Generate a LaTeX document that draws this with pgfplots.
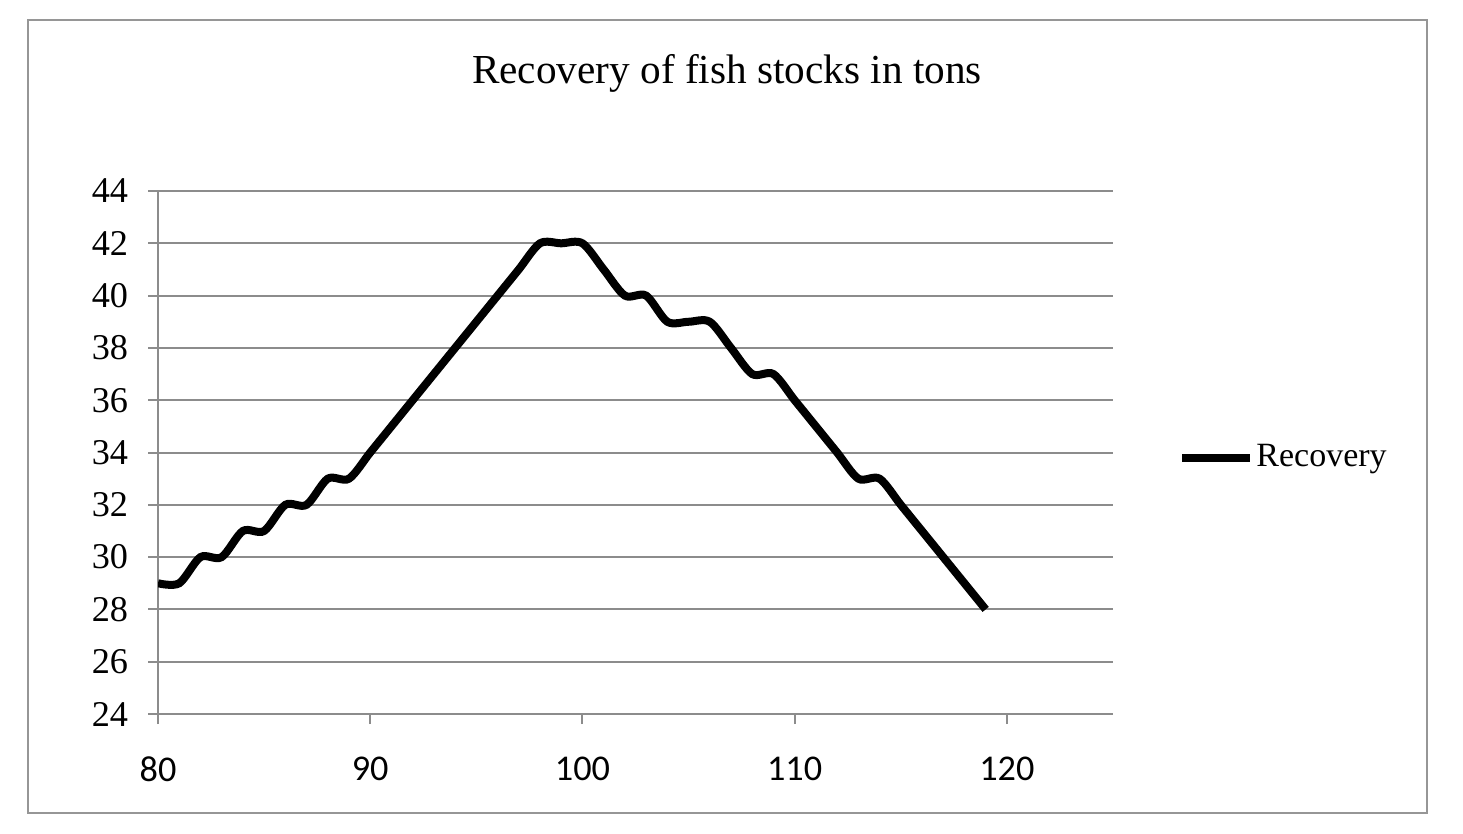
\documentclass[border=0pt]{standalone}
\usepackage{pgfplots}
\pgfplotsset{compat=1.18}
\usepackage{fontspec}
\setmainfont{Liberation Serif}
\newfontfamily\xfont{Carlito}
\definecolor{gridgray}{RGB}{140,140,140}
\definecolor{framegray}{RGB}{150,150,150}
\begin{document}
\begin{tikzpicture}
\path[use as bounding box] (0,0) rectangle (585.2pt,333.2pt);
\draw[framegray, line width=0.8pt] (11.2pt,8pt) rectangle (570.8pt,325.2pt);
\node[font=\fontsize{16.5}{18}\selectfont] at (290.8pt,304pt) {Recovery of fish stocks in tons};
\begin{axis}[
  at={(63.2pt,47.6pt)}, anchor=south west,
  scale only axis, width=382pt, height=209.2pt,
  xmin=80, xmax=125, ymin=24, ymax=44,
  xtick={80,90,100,110,120}, ytick={24,26,...,44},
  axis x line*=bottom, axis y line*=left,
  axis line style={gridgray, line width=0.8pt, -},
  tick style={gridgray, line width=0.8pt},
  tick align=outside, major tick length=4pt,
  ymajorgrids, grid style={gridgray, line width=0.8pt},
  /pgf/number format/assume math mode=true,
  yticklabel style={font=\fontsize{14.5}{14}\selectfont, inner sep=0pt, anchor=east, xshift=-7.8pt},
  xticklabel style={font=\xfont\fontsize{14.5}{14}\selectfont, inner sep=0pt, anchor=north, yshift=-13pt},
  legend style={draw=none, fill=none, at={(rel axis cs:1.068,0.49)}, anchor=west, inner sep=0pt,
    font=\fontsize{13.6}{14}\selectfont, nodes={inner sep=1pt}},
  legend image code/.code={\draw[#1] (0pt,0pt) -- (27pt,0pt);},
  legend cell align=left,
]
\addplot[black, line width=3.2pt, smooth, tension=0.5] coordinates {
(80,29)(81,29)(82,30)(83,30)(84,31)(85,31)(86,32)(87,32)(88,33)(89,33)
(90,34)(91,35)(92,36)(93,37)(94,38)(95,39)(96,40)(97,41)(98,42)(99,42)
(100,42)(101,41)(102,40)(103,40)(104,39)(105,39)(106,39)(107,38)(108,37)(109,37)
(110,36)(111,35)(112,34)(113,33)(114,33)(115,32)(116,31)(117,30)(118,29)(119,28)
};
\addlegendentry{Recovery}
\end{axis}
\end{tikzpicture}
\end{document}
